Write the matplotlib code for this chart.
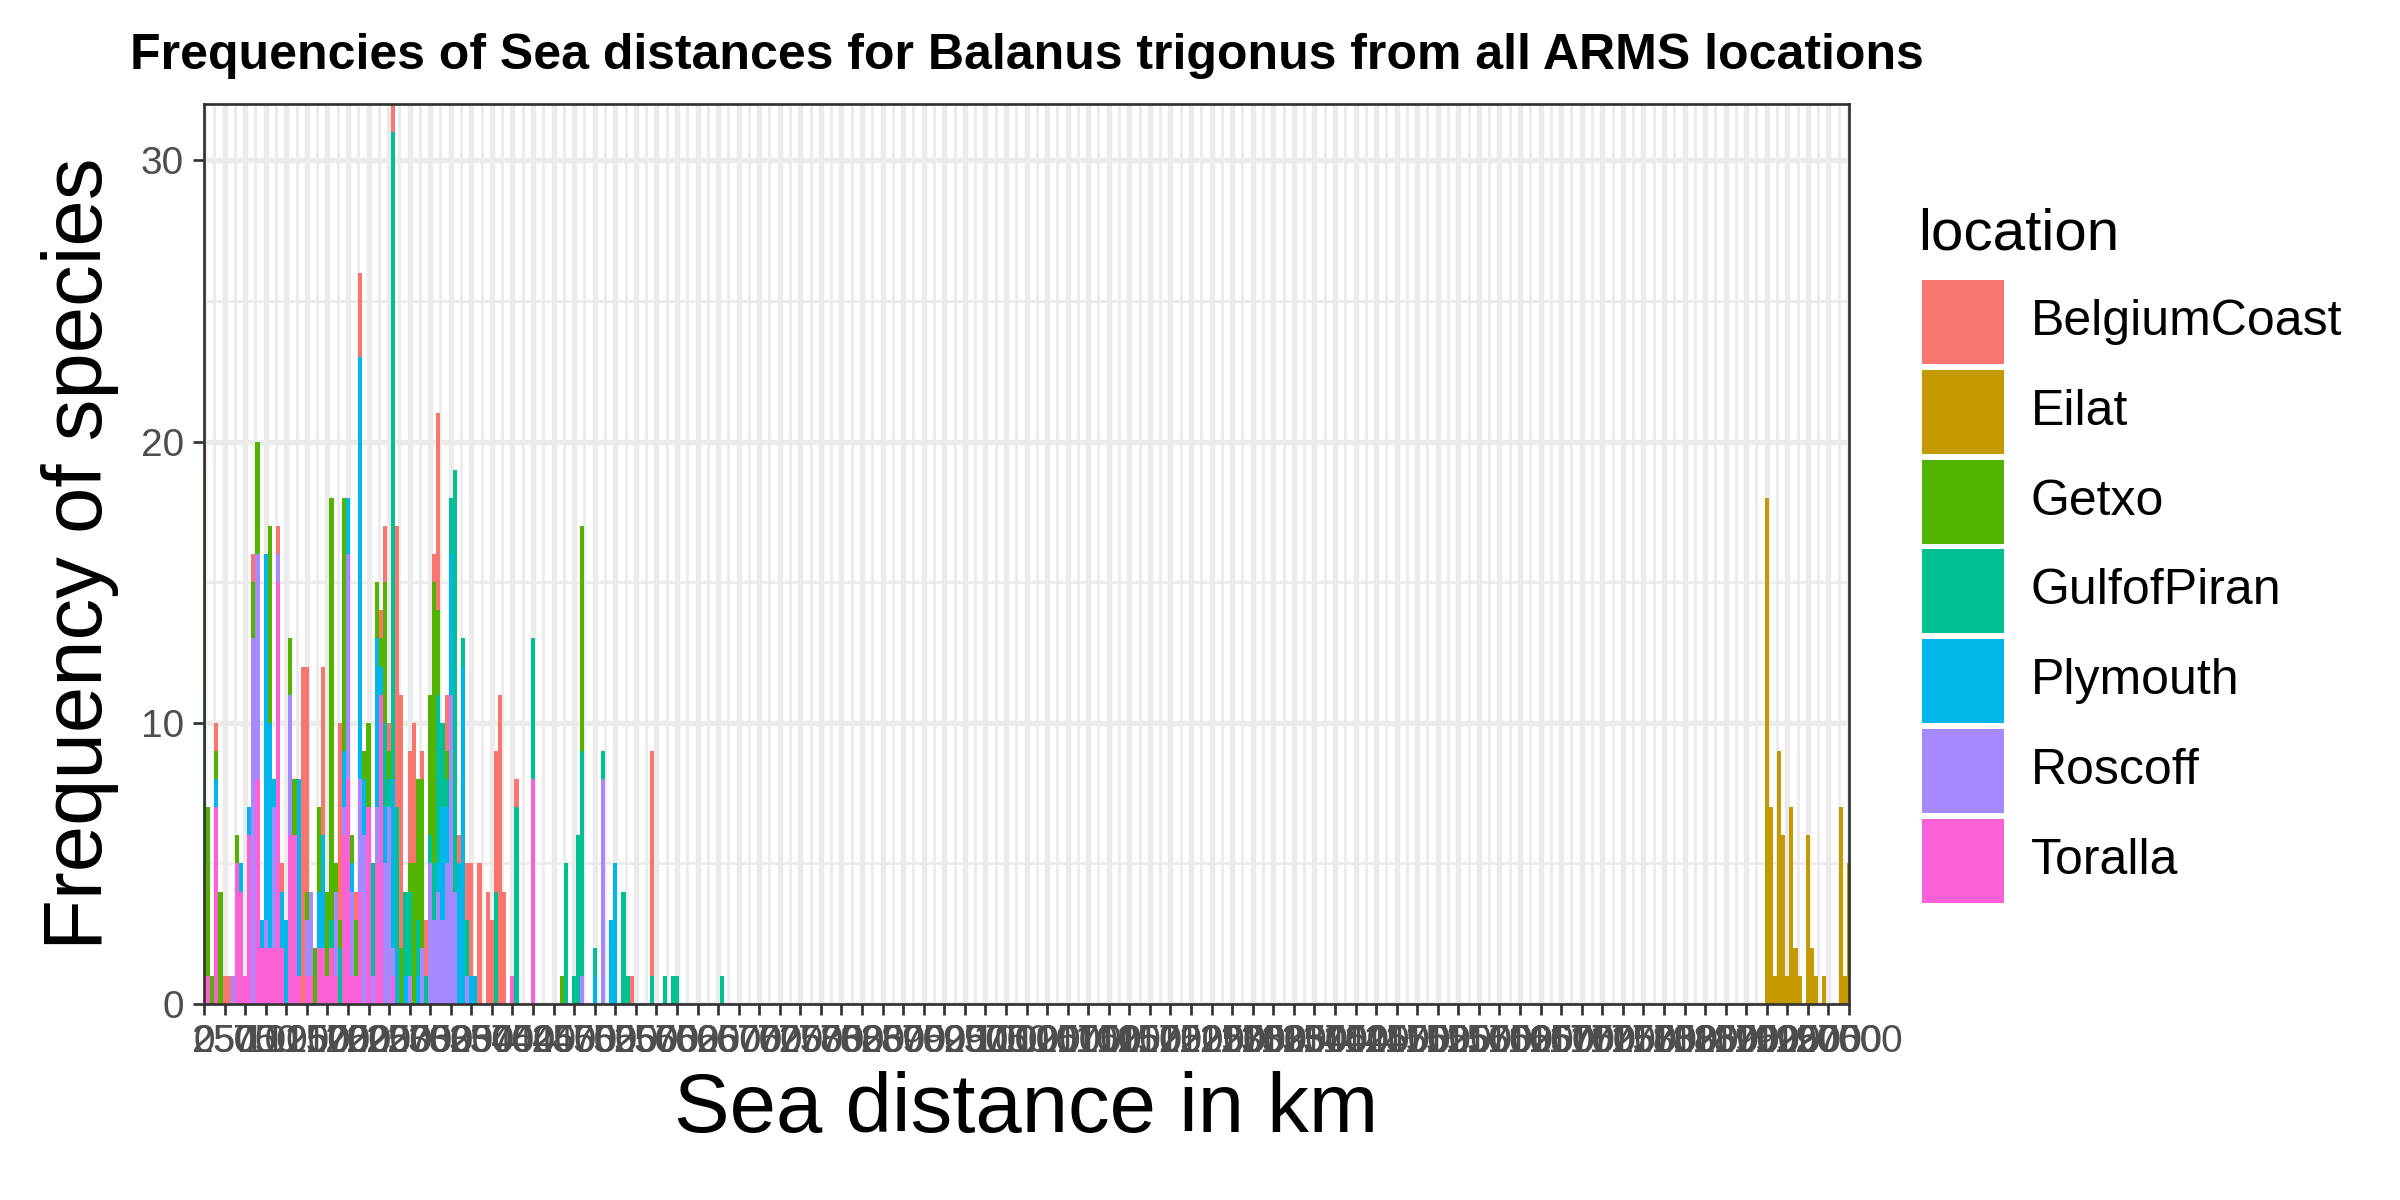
import numpy as np
import matplotlib
matplotlib.use('Agg')
import matplotlib.pyplot as plt
from matplotlib.patches import Rectangle

plt.rcParams['font.family'] = ['Liberation Sans', 'DejaVu Sans']

# histogram counts (bin centres in km, binwidth 50)
toralla_km = [0, 50, 150, 400, 450, 500, 550, 650, 700, 750, 800, 850, 900, 950, 1050, 1100, 1150,
              1250, 1300, 1400, 1450, 1500, 1550, 1600, 1700, 1750, 1800, 1850, 1900, 2000, 2100,
              2150, 2300, 3750, 4000]
toralla_n = [4, 1, 7, 5, 4, 1, 6, 8, 2, 2, 2, 2, 15, 2, 6, 6, 1, 1, 1, 2, 2, 1, 2, 1, 6, 8, 1, 1,
             4, 7, 5, 11, 1, 1, 8]

roscoff_km = [0, 350, 600, 650, 750, 850, 900, 1050, 1250, 1300, 1600, 1700, 1750, 1800, 1900,
              1950, 2050, 2100, 2200, 2250, 2300, 2500, 2650, 2750, 2800, 2850, 2900, 2950, 3000,
              3050, 3200, 4600, 4850]
roscoff_n = [1, 1, 13, 8, 1, 5, 1, 5, 2, 3, 3, 1, 8, 3, 4, 6, 1, 2, 5, 7, 1, 1, 2, 5, 3, 4, 3, 5,
             11, 4, 1, 1, 8]

plymouth_km = [150, 450, 550, 700, 750, 800, 850, 950, 1000, 1150, 1400, 1450, 1700, 1750, 1800,
               1900, 1950, 2100, 2150, 2200, 2300, 2350, 2450, 2600, 2850, 2900, 2950, 3000, 3100,
               3150, 3250, 3300, 4750, 4950, 5000]
plymouth_n = [1, 1, 1, 1, 13, 8, 1, 2, 3, 7, 2, 4, 2, 2, 1, 15, 2, 6, 1, 2, 6, 2, 1, 1, 1, 4, 2,
              5, 5, 12, 1, 1, 1, 3, 5]

piran_km = [0, 1550, 1650, 2050, 2200, 2250, 2300, 2350, 2450, 2500, 2600, 2700, 2750, 2800, 2850,
            2900, 2950, 3000, 3050, 3150, 3200, 3550, 3800, 4000, 4400, 4500, 4550, 4600, 4750,
            4850, 5100, 5150, 5450, 5600, 5700, 5750, 6300]
piran_n = [6, 1, 2, 4, 3, 1, 23, 5, 3, 3, 2, 1, 1, 2, 6, 3, 1, 2, 15, 1, 2, 4, 7, 5, 5, 1, 6, 8, 1,
           1, 4, 1, 1, 1, 1, 1, 1]

getxo_km = [0, 50, 100, 150, 200, 400, 600, 650, 800, 1050, 1100, 1250, 1350, 1400, 1500, 1550,
            1600, 1650, 1700, 1800, 1850, 1950, 2000, 2100, 2150, 2200, 2250, 2400, 2500, 2550,
            2600, 2650, 2750, 2800, 2850, 2950, 4350, 4600]
getxo_n = [8, 6, 1, 1, 4, 1, 2, 4, 7, 2, 2, 1, 2, 3, 3, 15, 1, 1, 9, 1, 2, 1, 3, 2, 1, 5, 1, 2, 1,
           5, 5, 6, 5, 10, 3, 1, 1, 8]

eilat_km = [19000, 19050, 19100, 19150, 19200, 19250, 19300, 19350, 19400, 19500, 19550, 19600,
            19700, 19900, 19950, 20000]
eilat_n = [18, 7, 1, 9, 6, 1, 7, 2, 1, 6, 2, 1, 1, 7, 1, 5]

belgium_km = [0, 150, 250, 300, 600, 900, 950, 1200, 1250, 1450, 1650, 1850, 1900, 2150, 2200,
              2250, 2300, 2350, 2400, 2500, 2550, 2650, 2700, 2800, 2850, 2950, 3100, 3200, 3250,
              3350, 3450, 3500, 3550, 3600, 3650, 3800, 5200, 5450]
belgium_n = [1, 1, 1, 1, 1, 1, 1, 12, 8, 6, 7, 1, 3, 1, 2, 1, 1, 10, 9, 4, 5, 1, 2, 1, 7, 2, 1, 2,
             4, 5, 4, 3, 5, 11, 4, 1, 1, 8]

locations = ['BelgiumCoast', 'Eilat', 'Getxo', 'GulfofPiran', 'Plymouth', 'Roscoff', 'Toralla']
colors = ['#F8766D', '#C49A00', '#53B400', '#00C094', '#00B6EB', '#A58AFF', '#FB61D7']
series = {
    'BelgiumCoast': (belgium_km, belgium_n),
    'Eilat': (eilat_km, eilat_n),
    'Getxo': (getxo_km, getxo_n),
    'GulfofPiran': (piran_km, piran_n),
    'Plymouth': (plymouth_km, plymouth_n),
    'Roscoff': (roscoff_km, roscoff_n),
    'Toralla': (toralla_km, toralla_n),
}

binwidth = 50
centers = np.arange(0, 20001, binwidth)

W, H = 2400, 1200
fig = plt.figure(figsize=(8, 4), dpi=300)
fx = lambda px: px / W
fy = lambda py: 1 - py / H

ax = fig.add_axes([fx(204), fy(1004), fx(1849) - fx(204), fy(104) - fy(1004)])

# stacked like ggplot: first factor level on top, so stack from the last one up
bottom = np.zeros(len(centers))
for loc, col in zip(locations[::-1], colors[::-1]):
    km, n = series[loc]
    counts = np.zeros(len(centers))
    counts[np.array(km) // binwidth] = n
    keep = counts > 0
    ax.bar(centers[keep], counts[keep], width=binwidth, bottom=bottom[keep],
           color=col, linewidth=0, zorder=2)
    bottom += counts

ax.set_xlim(0, 20000)
ax.set_ylim(0, 32)

xt = np.arange(0, 20001, 250)
ax.set_xticks(xt)
ax.set_xticklabels([str(v) for v in xt])
ax.set_xticks(np.arange(125, 20000, 250), minor=True)
ax.set_yticks([0, 10, 20, 30])
ax.set_yticks([5, 15, 25], minor=True)

ax.set_axisbelow(True)
ax.grid(which='major', color='#EBEBEB', linewidth=1.3, zorder=0)
ax.grid(which='minor', color='#EBEBEB', linewidth=0.65, zorder=0)
ax.tick_params(which='major', length=2.6, width=0.65, color='#333333',
               labelsize=9.3, labelcolor='#4D4D4D', pad=2.2)
ax.tick_params(which='minor', length=0)
for s in ax.spines.values():
    s.set_color('#333333')
    s.set_linewidth(0.65)
    s.set_zorder(3)

mid_x = (fx(204) + fx(1849)) / 2
fig.text(mid_x, fy(69), 'Frequencies of Sea distances for Balanus trigonus from all ARMS locations',
         ha='center', va='baseline', fontsize=12, fontweight='bold')
fig.text(mid_x, fy(1132), 'Sea distance in km', ha='center', va='baseline', fontsize=20)
fig.text(fx(102), (fy(104) + fy(1004)) / 2, 'Frequency of species', rotation=90,
         rotation_mode='anchor', ha='center', va='baseline', fontsize=20)

# legend
fig.text(fx(1918), fy(249), 'location', ha='left', va='baseline', fontsize=14)
for i, (loc, col) in enumerate(zip(locations, colors)):
    top = 280 + 89.8 * i
    fig.add_artist(Rectangle((fx(1922), fy(top + 84)), fx(82), 84 / H,
                             transform=fig.transFigure, facecolor=col, linewidth=0))
    fig.text(fx(2031), fy(top + 42), loc, ha='left', va='center', fontsize=12)

fig.savefig('out.png', dpi=300, facecolor='white')
